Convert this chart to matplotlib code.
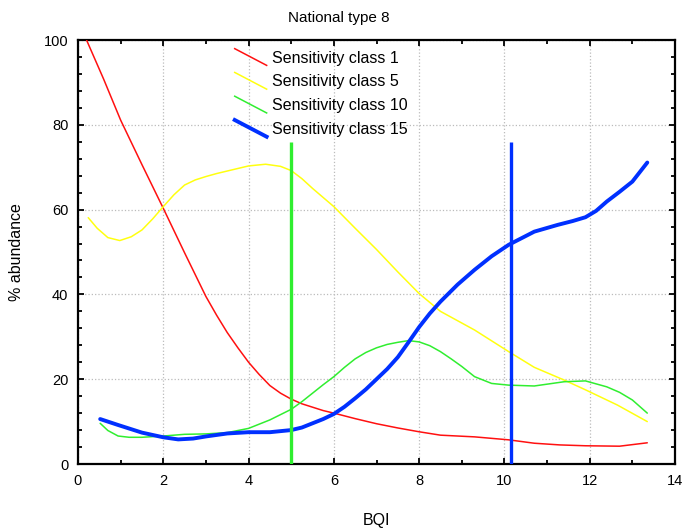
import matplotlib
matplotlib.use('Agg')
import matplotlib.pyplot as plt
from matplotlib.lines import Line2D
from matplotlib.legend_handler import HandlerBase
from matplotlib.ticker import MultipleLocator

plt.rcParams['font.family'] = ['Liberation Sans', 'DejaVu Sans']

# values
red_x = [0.2, 0.6, 1.0, 1.5, 2.0, 2.5, 3.0, 3.25, 3.5, 3.75, 4.0, 4.25, 4.5, 4.75, 5.0, 5.25, 5.5, 5.75, 6.0,
         6.5, 7.0, 7.5, 8.0, 8.5, 9.3, 10.1, 10.7, 11.3, 11.9, 12.7, 13.35]
red_y = [100, 90.8, 81.1, 70.6, 60.3, 49.8, 39.5, 35.1, 31.0, 27.4, 24.0, 21.1, 18.5, 16.7, 15.3, 14.2, 13.4,
         12.6, 12.0, 10.7, 9.5, 8.5, 7.6, 6.8, 6.4, 5.7, 4.9, 4.5, 4.3, 4.2, 5.0]

yellow_x = [0.24, 0.45, 0.7, 0.98, 1.25, 1.5, 1.75, 2.0, 2.25, 2.5, 2.75, 3.0, 3.25, 3.5, 4.0, 4.4, 4.75, 5.0,
            5.25, 5.5, 6.0, 6.5, 7.0, 7.5, 8.0, 8.5, 9.3, 10.1, 10.7, 11.4, 11.9, 12.65, 13.35]
yellow_y = [58.1, 55.6, 53.4, 52.7, 53.6, 55.2, 57.8, 60.7, 63.5, 65.8, 67.0, 67.8, 68.5, 69.1, 70.3, 70.7, 70.2,
            69.2, 67.3, 65.0, 60.7, 55.6, 50.6, 45.3, 40.2, 36.0, 31.6, 26.5, 22.8, 19.8, 17.5, 13.9, 10.0]

green_x = [0.52, 0.7, 0.94, 1.2, 1.5, 2.0, 2.5, 3.0, 3.5, 4.0, 4.5, 5.0, 5.25, 5.5, 5.75, 6.0, 6.25, 6.5, 6.75,
           7.0, 7.25, 7.5, 7.75, 8.0, 8.25, 8.5, 8.75, 9.0, 9.3, 9.7, 10.1, 10.7, 11.4, 11.9, 12.4, 12.7,
           13.0, 13.35]
green_y = [9.6, 7.9, 6.6, 6.3, 6.3, 6.6, 7.0, 7.1, 7.4, 8.4, 10.4, 12.9, 14.7, 16.7, 18.7, 20.6, 22.8, 24.8,
           26.3, 27.4, 28.2, 28.7, 29.1, 28.8, 27.9, 26.5, 24.8, 23.0, 20.6, 19.0, 18.6, 18.4, 19.4, 19.6,
           18.2, 16.9, 15.1, 12.0]

blue_x = [0.52, 0.94, 1.5, 2.0, 2.35, 2.7, 3.0, 3.5, 4.0, 4.5, 5.0, 5.25, 5.5, 5.75, 6.0, 6.25, 6.5, 6.75,
          7.0, 7.25, 7.5, 7.75, 8.0, 8.25, 8.5, 8.9, 9.3, 9.7, 10.1, 10.7, 11.25, 11.6, 11.9, 12.15, 12.4,
          12.7, 13.0, 13.35]
blue_y = [10.6, 9.2, 7.4, 6.3, 5.8, 6.0, 6.5, 7.2, 7.5, 7.5, 8.0, 8.6, 9.6, 10.6, 11.8, 13.5, 15.5, 17.6,
          20.0, 22.4, 25.2, 28.7, 32.3, 35.5, 38.3, 42.3, 45.8, 49.0, 51.7, 54.8, 56.4, 57.3, 58.2, 59.7,
          61.9, 64.2, 66.6, 71.1]

# class boundaries (vertical lines)
bound_x = [5.0, 10.15]
bound_top = [76, 76]

labels = ['Sensitivity class 1', 'Sensitivity class 5', 'Sensitivity class 10', 'Sensitivity class 15']
colors = ['#ff1010', '#ffff10', '#30ee30', '#0030ff']
widths = [1.1, 1.1, 1.1, 2.8]


class DiagonalHandler(HandlerBase):
    # legend key drawn as a short line going down to the right
    def create_artists(self, legend, orig_handle, xdescent, ydescent, width, height, fontsize, trans):
        x0, x1 = -xdescent, width - xdescent
        y0, y1 = height - ydescent + 2, -ydescent - 2
        line = Line2D([x0, x1], [y0, y1], color=orig_handle.get_color(),
                      lw=orig_handle.get_linewidth(), transform=trans)
        return [line]


fig = plt.figure(figsize=(6.82, 5.30), dpi=100)
ax = fig.add_axes([78 / 682, 66 / 530, 597 / 682, 424 / 530])

series = [(red_x, red_y), (yellow_x, yellow_y), (green_x, green_y), (blue_x, blue_y)]
handles = []
for (xs, ys), lab, c, w in zip(series, labels, colors, widths):
    h, = ax.plot(xs, ys, color=c, lw=w, label=lab, solid_capstyle='round', solid_joinstyle='round', zorder=3)
    handles.append(h)

ax.vlines(bound_x[0], 0, bound_top[0], color=colors[2], lw=2.4, zorder=4)
ax.vlines(bound_x[1], 0, bound_top[1], color=colors[3], lw=2.4, zorder=4)

ax.set_xlim(0, 14)
ax.set_ylim(0, 100)
ax.xaxis.set_major_locator(MultipleLocator(2))
ax.xaxis.set_minor_locator(MultipleLocator(1))
ax.yaxis.set_major_locator(MultipleLocator(20))
ax.yaxis.set_minor_locator(MultipleLocator(4))
ax.tick_params(which='both', direction='in', top=True, right=True, width=1.3, labelsize=10.5, pad=7)
ax.tick_params(which='major', length=4)
ax.tick_params(which='minor', length=3)
for s in ax.spines.values():
    s.set_linewidth(1.6)
ax.grid(True, which='major', linestyle=':', color='#bbbbbb', lw=0.9)
ax.set_axisbelow(True)

ax.set_xlabel('BQI', fontsize=11.5, labelpad=18)
ax.set_ylabel('% abundance', fontsize=11.5, labelpad=14)
fig.suptitle('National type 8', fontsize=11, y=0.98, x=0.497)

ax.legend(handles=handles, labels=labels, handler_map={Line2D: DiagonalHandler()},
          loc='upper left', bbox_to_anchor=(0.2625, 0.975), frameon=False, fontsize=11.5,
          handlelength=2.0, handletextpad=0.35, labelspacing=0.55, borderpad=0, borderaxespad=0)

fig.savefig('out.png', dpi=100)
